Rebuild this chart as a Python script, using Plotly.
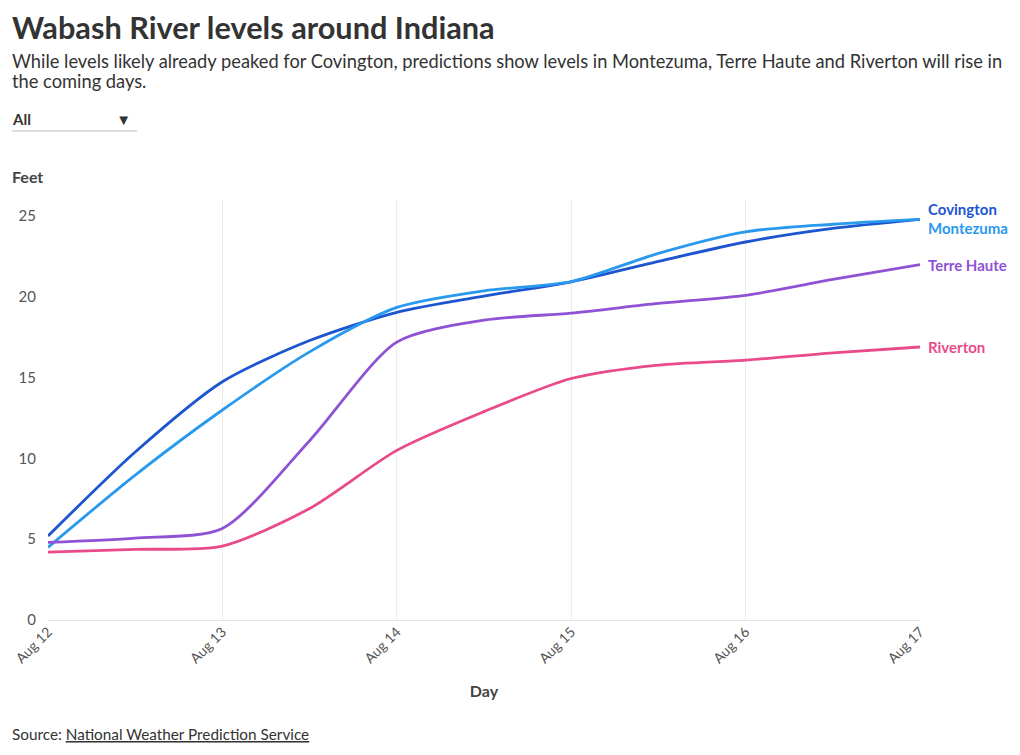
import plotly.graph_objects as go

# Wabash River stage readings / forecasts (feet), every 12 hours
times = [
    "2024-08-12 00:00", "2024-08-12 12:00", "2024-08-13 00:00", "2024-08-13 12:00",
    "2024-08-14 00:00", "2024-08-14 12:00", "2024-08-15 00:00", "2024-08-15 12:00",
    "2024-08-16 00:00", "2024-08-16 12:00", "2024-08-17 00:00",
]
covington = [5.2, 10.4, 14.75, 17.3, 19.05, 20.05, 20.93, 22.2, 23.4, 24.24, 24.8]
montezuma = [4.5, 8.97, 13.0, 16.6, 19.35, 20.38, 20.95, 22.7, 24.03, 24.5, 24.8]
terre_haute = [4.8, 5.07, 5.67, 11.1, 17.2, 18.56, 19.0, 19.6, 20.1, 21.08, 22.0]
riverton = [4.2, 4.37, 4.58, 6.9, 10.5, 12.9, 14.95, 15.78, 16.09, 16.54, 16.9]

day_ticks = ["2024-08-12", "2024-08-13", "2024-08-14", "2024-08-15", "2024-08-16", "2024-08-17"]

stations = ["Covington", "Montezuma", "Terre Haute", "Riverton"]
levels = [covington, montezuma, terre_haute, riverton]
colors = ["#1c55cf", "#2999ee", "#8f52d5", "#e84a8a"]
label_shift = [10, -9, 0, 0]

FONT = "Lato"
OFF = 8  # page body margin around the figure
W, H = 1020 - OFF, 755 - OFF
PLOT_L, PLOT_R, PLOT_T, PLOT_B = 48, 920, 200, 620  # plot area in page pixels


def px_x(p):
    return (p - PLOT_L) / (PLOT_R - PLOT_L)


def px_y(p):
    return (PLOT_B - p) / (PLOT_B - PLOT_T)


fig = go.Figure()
for name, vals, col in zip(stations, levels, colors):
    fig.add_trace(go.Scatter(
        x=times, y=vals, name=name, mode="lines",
        line=dict(color=col, width=2.8, shape="spline", smoothing=0.75),
        hovertemplate="%{x|%b %d %H:%M}: %{y} ft<extra>" + name + "</extra>",
    ))

annotations = [
    dict(text="<b>Wabash River levels around Indiana</b>", x=px_x(10), y=px_y(28),
         xanchor="left", yanchor="middle", font=dict(size=30.7, color="#333333")),
    dict(text="While levels likely already peaked for Covington, predictions show levels in Montezuma, "
              "Terre Haute and Riverton will rise in",
         x=px_x(10), y=px_y(61), xanchor="left", yanchor="middle",
         font=dict(size=18.3, color="#333333")),
    dict(text="the coming days.", x=px_x(10), y=px_y(81), xanchor="left", yanchor="middle",
         font=dict(size=18.3, color="#333333")),
    dict(text="<b>Feet</b>", x=px_x(10), y=px_y(176), xanchor="left", yanchor="middle",
         font=dict(size=16, color="#444444")),
    dict(text="Source: <u>National Weather Prediction Service</u>", x=px_x(10), y=px_y(734),
         xanchor="left", yanchor="middle", font=dict(size=15.3, color="#333333")),
]

shapes = []
for name, vals, col, shift in zip(stations, levels, colors, label_shift):
    annotations.append(dict(
        text="<b>" + name + "</b>", x=times[-1], y=vals[-1], xref="x", yref="y",
        xanchor="left", yanchor="middle", xshift=6, yshift=shift,
        showarrow=False, font=dict(size=15, color=col),
    ))
    if shift == 0:
        shapes.append(dict(
            type="line", xref="x", yref="y", xsizemode="pixel", xanchor=times[-1],
            x0=0, x1=6, y0=vals[-1], y1=vals[-1], line=dict(color=col, width=1),
        ))

# bracket grouping the two overlapping labels
shapes.append(dict(
    type="path", xref="x", yref="y", xsizemode="pixel", ysizemode="pixel",
    xanchor=times[-1], yanchor=covington[-1],
    path="M 4,10 L 2,10 L 2,-10 L 4,-10", line=dict(color="#999999", width=1),
))
# underline of the station picker
shapes.append(dict(
    type="line", xref="paper", yref="paper", x0=px_x(12), x1=px_x(137),
    y0=px_y(131), y1=px_y(131), line=dict(color="#bbbbbb", width=1),
))

pad_label = "\u00a0" * 4
buttons = [dict(label="All", method="restyle", args=[{"visible": [True] * len(stations)}])]
for i, name in enumerate(stations):
    label = name + pad_label if name == "Terre Haute" else name
    buttons.append(dict(label=label, method="restyle",
                        args=[{"visible": [j == i for j in range(len(stations))]}]))

fig.update_layout(
    width=W, height=H,
    margin=dict(l=PLOT_L - OFF, r=W - (PLOT_R - OFF), t=PLOT_T - OFF, b=H - (PLOT_B - OFF),
                autoexpand=False),
    paper_bgcolor="white", plot_bgcolor="white",
    font=dict(family=FONT, color="#444444"),
    showlegend=False,
    annotations=[dict(a, showarrow=False, xref=a.get("xref", "paper"), yref=a.get("yref", "paper"))
                 for a in annotations],
    shapes=shapes,
    updatemenus=[dict(
        type="dropdown", buttons=buttons, active=0,
        x=px_x(1), y=px_y(105), xanchor="left", yanchor="top",
        bgcolor="rgba(255,255,255,0)", bordercolor="rgba(255,255,255,0)", borderwidth=0,
        font=dict(family=FONT, size=15, color="#333333", weight="bold"),
        pad=dict(t=0, b=0, l=0, r=0),
    )],
    xaxis=dict(
        type="date", tickvals=day_ticks, tickformat="%b %d", tickangle=-45,
        range=[times[0], times[-1]], automargin=False,
        showgrid=True, gridcolor="#ececec", gridwidth=1,
        showline=False, zeroline=False,
        tickfont=dict(size=14, color="#555555"),
        title=dict(text="<b>Day</b>", font=dict(size=16, color="#444444"), standoff=20),
    ),
    yaxis=dict(
        range=[0, 26], tickvals=[0, 5, 10, 15, 20, 25], automargin=False,
        showgrid=False, zeroline=True, zerolinecolor="#e6e6e6", zerolinewidth=1,
        showline=False, ticks="", ticklabelstandoff=11,
        tickfont=dict(size=15, color="#555555"),
    ),
)

fig.write_html("out.html")
